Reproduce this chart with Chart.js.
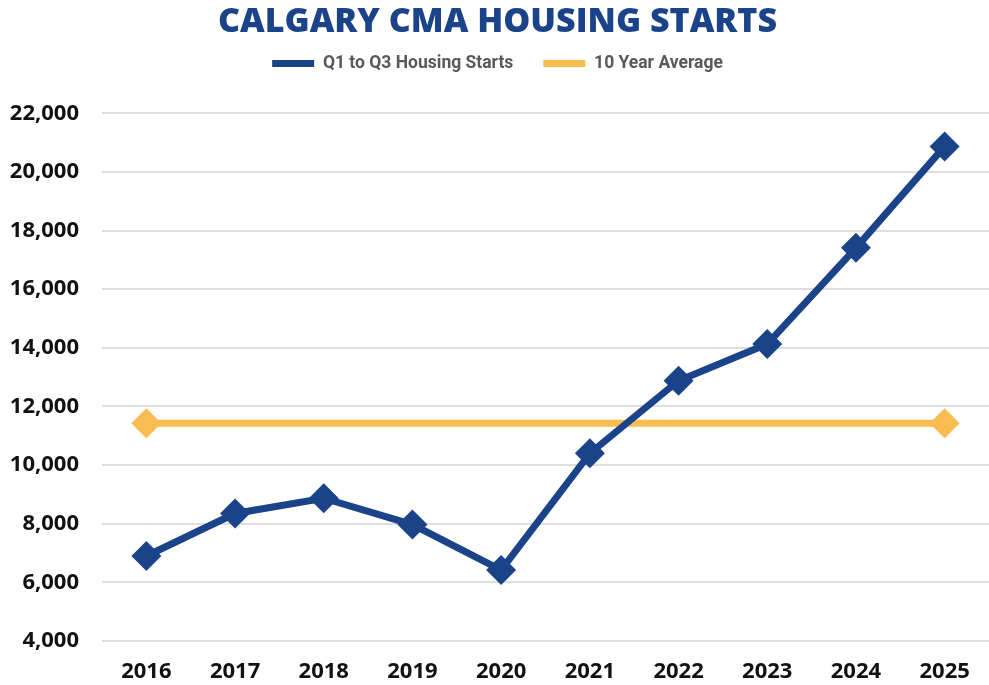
<!DOCTYPE html>
<html>
<head>
<meta charset="utf-8">
<script src="https://cdn.jsdelivr.net/npm/chart.js@4"></script>
<style>
  html, body { margin: 0; padding: 0; background: #ffffff; overflow: hidden; }
  #wrap { position: relative; width: 989px; height: 685px; }
  #c { display: block; }
</style>
</head>
<body>
<div id="wrap"><canvas id="c"></canvas></div>
<script>
const categories = ['2016', '2017', '2018', '2019', '2020', '2021', '2022', '2023', '2024', '2025'];
const housingStarts = [6900, 8350, 8870, 7970, 6420, 10400, 12880, 14130, 17410, 20870];
const tenYearAverage = [11430, 11430, 11430, 11430, 11430, 11430, 11430, 11430, 11430, 11430];
const yTicks = [4000, 6000, 8000, 10000, 12000, 14000, 16000, 18000, 20000, 22000];
const seriesNames = ['Q1 to Q3 Housing Starts', '10 Year Average'];

const BLUE = '#1b4389';
const GOLD = '#f9bc50';

const legendGap = {
  id: 'legendGap',
  beforeInit(chart) {
    const origFit = chart.legend.fit;
    chart.legend.fit = function () {
      origFit.bind(chart.legend)();
      this.height += 31;
    };
  }
};

new Chart(document.getElementById('c'), {
  type: 'line',
  data: {
    labels: categories,
    datasets: [
      {
        label: seriesNames[0],
        data: housingStarts,
        borderColor: BLUE,
        backgroundColor: BLUE,
        borderWidth: 7,
        pointStyle: 'rectRot',
        pointRadius: 15,
        pointHoverRadius: 15,
        pointBackgroundColor: BLUE,
        pointBorderColor: BLUE,
        pointBorderWidth: 0,
        tension: 0,
        order: 1
      },
      {
        label: seriesNames[1],
        data: tenYearAverage,
        borderColor: GOLD,
        backgroundColor: GOLD,
        borderWidth: 7,
        pointStyle: 'rectRot',
        pointRadius: tenYearAverage.map((v, i) => (i === 0 || i === tenYearAverage.length - 1) ? 15 : 0),
        pointHoverRadius: 15,
        pointBackgroundColor: GOLD,
        pointBorderColor: GOLD,
        pointBorderWidth: 0,
        tension: 0,
        order: 2
      }
    ]
  },
  options: {
    responsive: true,
    maintainAspectRatio: false,
    animation: false,
    layout: { autoPadding: false, padding: { left: 6, right: 0, top: 2, bottom: 2 } },
    plugins: {
      title: {
        display: true,
        text: 'CALGARY CMA HOUSING STARTS',
        color: BLUE,
        font: { family: 'Open Sans', size: 34, weight: '800' },
        padding: { top: 0, bottom: -18 }
      },
      legend: {
        display: true,
        position: 'top',
        labels: {
          color: '#595959',
          font: { family: 'Roboto', size: 17.5, weight: 'bold' },
          boxWidth: 42,
          boxHeight: 7,
          padding: 30,
          generateLabels(chart) {
            return chart.data.datasets.map((ds, i) => ({
              text: ds.label,
              fillStyle: ds.borderColor,
              strokeStyle: ds.borderColor,
              lineWidth: 0,
              hidden: false,
              datasetIndex: i,
              fontColor: '#595959'
            }));
          }
        }
      },
      tooltip: { enabled: false }
    },
    scales: {
      x: {
        offset: true,
        grid: { display: false, drawTicks: false },
        border: { display: false },
        ticks: {
          color: '#111111',
          font: { family: 'Open Sans', size: 22, weight: 'bold' },
          padding: 18
        },
        afterFit(scale) {
          scale.height = 42;
          scale.paddingLeft = 0;
          scale.paddingRight = 0;
        }
      },
      y: {
        min: 4000,
        max: 22000,
        afterBuildTicks(axis) { axis.ticks = yTicks.map(v => ({ value: v })); },
        grid: { color: '#dedede', lineWidth: 2, drawTicks: false },
        border: { display: false },
        ticks: {
          color: '#111111',
          font: { family: 'Open Sans', size: 22, weight: 'bold' },
          padding: 23,
          callback: (v) => Number(v).toLocaleString('en-US')
        },
        afterFit(scale) {
          scale.width = 96;
        }
      }
    }
  },
  plugins: [legendGap]
});
</script>
</body>
</html>
